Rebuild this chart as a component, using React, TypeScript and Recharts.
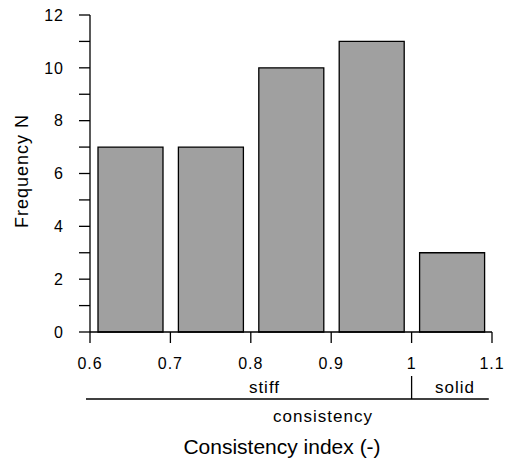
import { BarChart, Bar, XAxis, YAxis } from "recharts";

// histogram bins (class centres) and counts
const binCenters = [0.65, 0.75, 0.85, 0.95, 1.05];
const frequencies = [7, 7, 10, 11, 3];

const xTicks = [0.6, 0.7, 0.8, 0.9, 1, 1.1];
const yTicks = [0, 1, 2, 3, 4, 5, 6, 7, 8, 9, 10, 11, 12];

// consistency classes drawn under the x axis
const classNames = ["stiff", "solid"];
const classLabelAt = [0.817, 1.054];
const classBoundary = 1.0;
const classRange = [0.595, 1.096];

const data = binCenters.map((x, i) => ({ x, n: frequencies[i] }));

const W = 505;
const H = 461;
const PLOT_LEFT = 90;
const PLOT_RIGHT = 492;
const PLOT_TOP = 15;
const PLOT_BOTTOM = 332;
const FONT = '"Liberation Sans", Arial, sans-serif';

// same linear mapping the x axis uses, for the annotation below it
const xPx = (v: number) =>
  PLOT_LEFT + ((v - 0.6) / 0.5) * (PLOT_RIGHT - PLOT_LEFT);

export default function App() {
  const tickStyle = {
    fill: "#000",
    fontSize: 16,
    fontFamily: FONT,
    letterSpacing: 1,
  };
  return (
    <div
      style={{
        position: "fixed",
        left: 0,
        top: 0,
        width: W,
        height: H,
        background: "#fff",
        fontFamily: FONT,
      }}
    >
      <BarChart
        width={W}
        height={H}
        data={data}
        margin={{
          top: PLOT_TOP,
          right: W - PLOT_RIGHT,
          left: 0,
          bottom: H - PLOT_BOTTOM - 40,
        }}
      >
        <XAxis
          type="number"
          dataKey="x"
          domain={[0.6, 1.1]}
          ticks={xTicks}
          interval={0}
          height={40}
          tickSize={11}
          tickMargin={15}
          tick={tickStyle}
          axisLine={{ stroke: "#000", strokeWidth: 1.3 }}
          tickLine={{ stroke: "#000", strokeWidth: 1.3 }}
        />
        <YAxis
          type="number"
          domain={[0, 12]}
          ticks={yTicks}
          interval={0}
          width={PLOT_LEFT}
          tickSize={11}
          tickMargin={15}
          tick={tickStyle}
          tickFormatter={(v: number) => (v % 2 === 0 ? String(v) : "")}
          axisLine={{ stroke: "#000", strokeWidth: 1.3 }}
          tickLine={{ stroke: "#000", strokeWidth: 1.3 }}
        />
        <Bar
          dataKey="n"
          fill="#a0a0a0"
          stroke="#000"
          strokeWidth={1.3}
          barSize={65}
          isAnimationActive={false}
        />
      </BarChart>
      <svg
        width={W}
        height={H}
        style={{ position: "absolute", left: 0, top: 0, pointerEvents: "none" }}
        fontFamily={FONT}
      >
        <text
          transform="translate(28,171) rotate(-90)"
          textAnchor="middle"
          fontSize={18}
          letterSpacing={1}
          fill="#000"
        >
          Frequency N
        </text>
        {classNames.map((name, i) => (
          <text
            key={name}
            x={xPx(classLabelAt[i])}
            y={393}
            textAnchor="middle"
            fontSize={17}
            letterSpacing={1}
            fill="#000"
          >
            {name}
          </text>
        ))}
        <line
          x1={xPx(classRange[0])}
          x2={xPx(classRange[1])}
          y1={399}
          y2={399}
          stroke="#000"
          strokeWidth={1.3}
        />
        <line
          x1={xPx(classBoundary)}
          x2={xPx(classBoundary)}
          y1={376}
          y2={399}
          stroke="#000"
          strokeWidth={1.3}
        />
        <text
          x={323}
          y={422}
          textAnchor="middle"
          fontSize={17}
          letterSpacing={1}
          fill="#000"
        >
          consistency
        </text>
        <text
          x={282}
          y={454}
          textAnchor="middle"
          fontSize={21}
          fill="#000"
        >
          Consistency index (-)
        </text>
      </svg>
    </div>
  );
}
